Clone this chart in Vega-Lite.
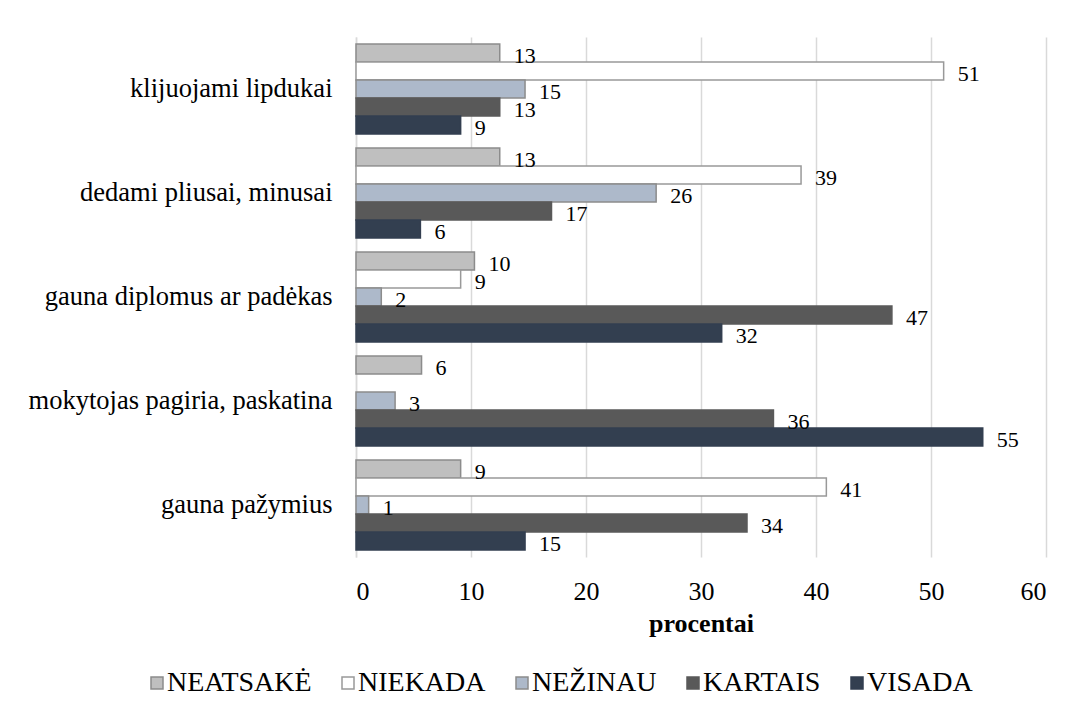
{
  "$schema": "https://vega.github.io/schema/vega-lite/v6.json",
  "width": 690,
  "height": 520,
  "autosize": {"type": "none"},
  "padding": {"left": 356, "top": 37, "right": 40, "bottom": 167},
  "background": "white",
  "data": {
    "values": [
      {"category": "klijuojami lipdukai", "series": "NEATSAKĖ", "value": 12.5, "label": "13"},
      {"category": "klijuojami lipdukai", "series": "NIEKADA", "value": 51.1, "label": "51"},
      {"category": "klijuojami lipdukai", "series": "NEŽINAU", "value": 14.7, "label": "15"},
      {"category": "klijuojami lipdukai", "series": "KARTAIS", "value": 12.5, "label": "13"},
      {"category": "klijuojami lipdukai", "series": "VISADA", "value": 9.1, "label": "9"},
      {"category": "dedami pliusai, minusai", "series": "NEATSAKĖ", "value": 12.5, "label": "13"},
      {"category": "dedami pliusai, minusai", "series": "NIEKADA", "value": 38.7, "label": "39"},
      {"category": "dedami pliusai, minusai", "series": "NEŽINAU", "value": 26.1, "label": "26"},
      {"category": "dedami pliusai, minusai", "series": "KARTAIS", "value": 17.0, "label": "17"},
      {"category": "dedami pliusai, minusai", "series": "VISADA", "value": 5.6, "label": "6"},
      {"category": "gauna diplomus ar padėkas", "series": "NEATSAKĖ", "value": 10.3, "label": "10"},
      {"category": "gauna diplomus ar padėkas", "series": "NIEKADA", "value": 9.1, "label": "9"},
      {"category": "gauna diplomus ar padėkas", "series": "NEŽINAU", "value": 2.2, "label": "2"},
      {"category": "gauna diplomus ar padėkas", "series": "KARTAIS", "value": 46.6, "label": "47"},
      {"category": "gauna diplomus ar padėkas", "series": "VISADA", "value": 31.8, "label": "32"},
      {"category": "mokytojas pagiria, paskatina", "series": "NEATSAKĖ", "value": 5.7, "label": "6"},
      {"category": "mokytojas pagiria, paskatina", "series": "NEŽINAU", "value": 3.4, "label": "3"},
      {"category": "mokytojas pagiria, paskatina", "series": "KARTAIS", "value": 36.3, "label": "36"},
      {"category": "mokytojas pagiria, paskatina", "series": "VISADA", "value": 54.5, "label": "55"},
      {"category": "gauna pažymius", "series": "NEATSAKĖ", "value": 9.1, "label": "9"},
      {"category": "gauna pažymius", "series": "NIEKADA", "value": 40.9, "label": "41"},
      {"category": "gauna pažymius", "series": "NEŽINAU", "value": 1.1, "label": "1"},
      {"category": "gauna pažymius", "series": "KARTAIS", "value": 34.0, "label": "34"},
      {"category": "gauna pažymius", "series": "VISADA", "value": 14.7, "label": "15"}
    ]
  },
  "encoding": {
    "y": {
      "field": "category",
      "type": "nominal",
      "sort": ["klijuojami lipdukai", "dedami pliusai, minusai", "gauna diplomus ar padėkas", "mokytojas pagiria, paskatina", "gauna pažymius"],
      "scale": {"paddingInner": 0.134, "paddingOuter": 0.067},
      "title": null,
      "axis": {
        "domainColor": "#d9d9d9",
        "domainWidth": 1.5,
        "ticks": false,
        "labelFont": "'Liberation Serif', 'DejaVu Serif', serif",
        "labelFontSize": 26.5,
        "labelColor": "#000000",
        "labelPadding": 24,
        "labelLimit": 400
      }
    },
    "yOffset": {
      "field": "series",
      "type": "nominal",
      "sort": ["NEATSAKĖ", "NIEKADA", "NEŽINAU", "KARTAIS", "VISADA"],
      "scale": {"paddingInner": 0, "paddingOuter": 0}
    },
    "x": {
      "field": "value",
      "type": "quantitative",
      "scale": {"domain": [0, 60], "nice": false},
      "title": "procentai",
      "axis": {
        "values": [0, 10, 20, 30, 40, 50, 60],
        "grid": true,
        "gridColor": "#d9d9d9",
        "gridWidth": 1.5,
        "domain": false,
        "ticks": false,
        "labelFont": "'Liberation Serif', 'DejaVu Serif', serif",
        "labelFontSize": 26,
        "labelColor": "#000000",
        "labelPadding": 21,
        "titleFont": "'Liberation Serif', 'DejaVu Serif', serif",
        "titleFontSize": 26,
        "titleFontWeight": "bold",
        "titleColor": "#000000",
        "titlePadding": 6
      }
    }
  },
  "layer": [
    {
      "mark": {"type": "bar", "strokeWidth": 1.5},
      "encoding": {
        "fill": {
          "field": "series",
          "type": "nominal",
          "sort": ["NEATSAKĖ", "NIEKADA", "NEŽINAU", "KARTAIS", "VISADA"],
          "scale": {
            "domain": ["NEATSAKĖ", "NIEKADA", "NEŽINAU", "KARTAIS", "VISADA"],
            "range": ["#bfbfbf", "#ffffff", "#adb9ca", "#595959", "#333f50"]
          },
          "legend": {
            "orient": "none",
            "legendX": -213,
            "legendY": 632,
            "direction": "horizontal",
            "title": null,
            "symbolType": "square",
            "symbolSize": 144,
            "symbolStrokeWidth": 1.5,
            "labelFont": "'Liberation Serif', 'DejaVu Serif', serif",
            "labelFontSize": 28,
            "labelColor": "#000000",
            "labelOffset": -4,
            "columnPadding": 22
          }
        },
        "stroke": {
          "field": "series",
          "type": "nominal",
          "sort": ["NEATSAKĖ", "NIEKADA", "NEŽINAU", "KARTAIS", "VISADA"],
          "scale": {
            "domain": ["NEATSAKĖ", "NIEKADA", "NEŽINAU", "KARTAIS", "VISADA"],
            "range": ["#8c8c8c", "#999999", "#8c8c8c", "#595959", "#333f50"]
          },
          "legend": {
            "orient": "none",
            "legendX": -213,
            "legendY": 632,
            "direction": "horizontal",
            "title": null,
            "symbolType": "square",
            "symbolSize": 144,
            "symbolStrokeWidth": 1.5,
            "labelFont": "'Liberation Serif', 'DejaVu Serif', serif",
            "labelFontSize": 28,
            "labelColor": "#000000",
            "labelOffset": -4,
            "columnPadding": 22
          }
        }
      }
    },
    {
      "mark": {
        "type": "text",
        "align": "left",
        "baseline": "middle",
        "dx": 14,
        "dy": 3,
        "font": "'Liberation Serif', 'DejaVu Serif', serif",
        "fontSize": 22,
        "color": "#000000"
      },
      "encoding": {
        "text": {"field": "label", "type": "nominal"}
      }
    }
  ],
  "config": {
    "view": {"stroke": null},
    "font": "'Liberation Serif', 'DejaVu Serif', serif"
  }
}
